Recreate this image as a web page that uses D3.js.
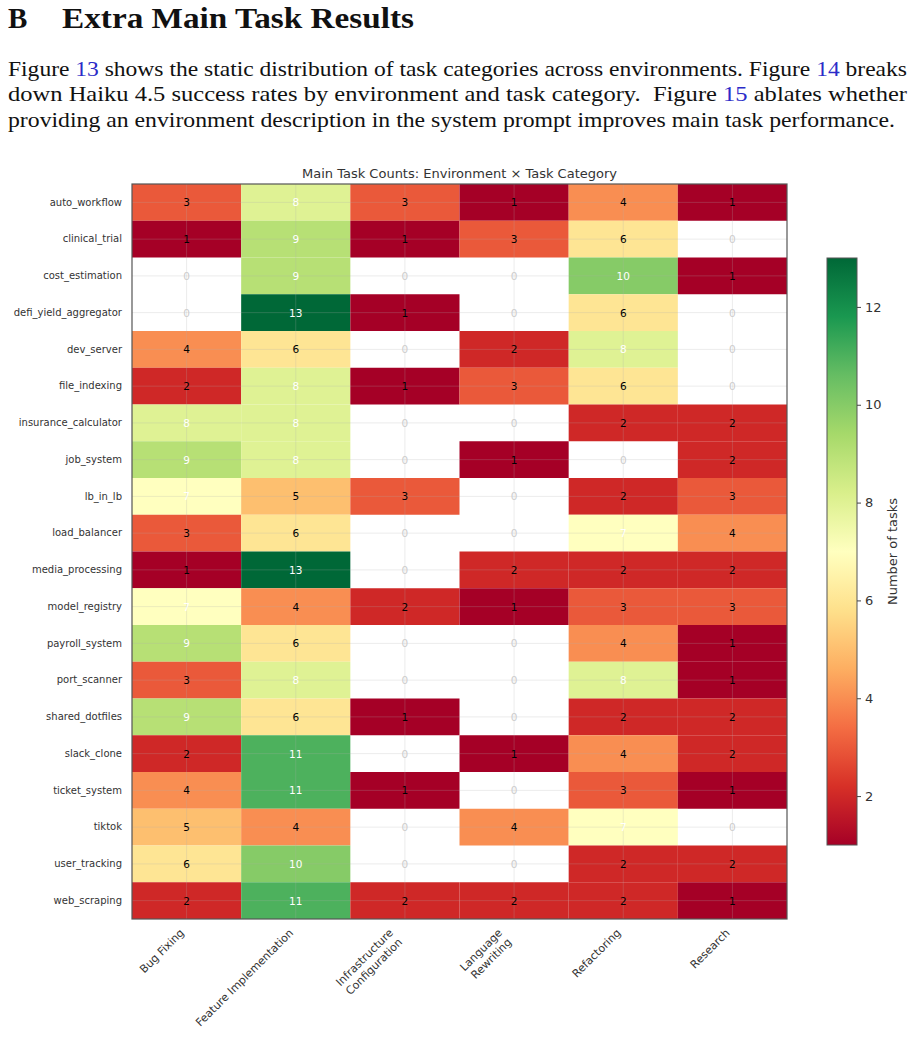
<!DOCTYPE html>
<html>
<head>
<meta charset="utf-8">
<script src="https://cdn.jsdelivr.net/npm/d3@7"></script>
<style>
  body { margin: 0; background: #fff; }
</style>
</head>
<body>
<div id="page"></div>
<script>
// environments (rows) and task categories (columns)
const envs = [
    "auto_workflow", "clinical_trial", "cost_estimation", "defi_yield_aggregator",
    "dev_server", "file_indexing", "insurance_calculator", "job_system", "lb_in_lb",
    "load_balancer", "media_processing", "model_registry", "payroll_system",
    "port_scanner", "shared_dotfiles", "slack_clone", "ticket_system", "tiktok",
    "user_tracking", "web_scraping"
];
const categories = [
    "Bug Fixing", "Feature Implementation", "Infrastructure\nConfiguration",
    "Language\nRewriting", "Refactoring", "Research"
];
// one row per environment, in category order
const counts = [
    [3, 8, 3, 1, 4, 1],
    [1, 9, 1, 3, 6, 0],
    [0, 9, 0, 0, 10, 1],
    [0, 13, 1, 0, 6, 0],
    [4, 6, 0, 2, 8, 0],
    [2, 8, 1, 3, 6, 0],
    [8, 8, 0, 0, 2, 2],
    [9, 8, 0, 1, 0, 2],
    [7, 5, 3, 0, 2, 3],
    [3, 6, 0, 0, 7, 4],
    [1, 13, 0, 2, 2, 2],
    [7, 4, 2, 1, 3, 3],
    [9, 6, 0, 0, 4, 1],
    [3, 8, 0, 0, 8, 1],
    [9, 6, 1, 0, 2, 2],
    [2, 11, 0, 1, 4, 2],
    [4, 11, 1, 0, 3, 1],
    [5, 4, 0, 4, 7, 0],
    [6, 10, 0, 0, 2, 2],
    [2, 11, 2, 2, 2, 1]
];
const cbarTicks = [2, 4, 6, 8, 10, 12];
const vmin = 1, vmax = 13;

// text of the page above the figure
const heading = ["B", "Extra Main Task Results"];
const paragraph = [
    [["Figure ", 0], ["13", 1], [" shows the static distribution of task categories across environments. Figure ", 0], ["14", 1], [" breaks", 0]],
    [["down Haiku 4.5 success rates by environment and task category.  Figure ", 0], ["15", 1], [" ablates whether", 0]],
    [["providing an environment description in the system prompt improves main task performance.", 0]]
];

const W = 914, H = 1037;
const svg = d3.select("#page").append("svg")
    .attr("width", W).attr("height", H);

// ---- heading + paragraph (LaTeX page) ----
const serif = "'Liberation Serif', 'DejaVu Serif', serif";
svg.append("text")
    .attr("x", 8).attr("y", 28)
    .attr("font-family", serif).attr("font-size", 29).attr("font-weight", "bold")
    .attr("fill", "#111")
    .text(heading[0]);
svg.append("text")
    .attr("x", 62).attr("y", 28)
    .attr("font-family", serif).attr("font-size", 29).attr("font-weight", "bold")
    .attr("fill", "#111")
    .attr("textLength", 352).attr("lengthAdjust", "spacingAndGlyphs")
    .text(heading[1]);

const lineEnds = [907, 907, 895];
paragraph.forEach((line, i) => {
    const t = svg.append("text")
        .attr("x", 8).attr("y", 76 + i * 25.3)
        .attr("font-family", serif).attr("font-size", 21)
        .attr("fill", "#111")
        .attr("textLength", lineEnds[i] - 8)
        .attr("lengthAdjust", "spacingAndGlyphs")
        .style("white-space", "pre");
    line.forEach(([s, link]) => {
        t.append("tspan").attr("fill", link ? "#2b2bc8" : "#111").text(s);
    });
});

// ---- heatmap ----
const sans = "'DejaVu Sans', sans-serif";
const plot = { left: 132, top: 184, right: 787, bottom: 919 };

const x = d3.scaleBand()
    .domain(d3.range(categories.length))
    .range([plot.left, plot.right]);
const y = d3.scaleBand()
    .domain(envs)
    .range([plot.top, plot.bottom]);

// RdYlGn as in matplotlib: linear between the 11 brewer colours
const rdylgn = d3.piecewise(d3.interpolateRgb, d3.schemeRdYlGn[11]);
const color = v => rdylgn((v - vmin) / (vmax - vmin));

const cells = [];
counts.forEach((row, i) => row.forEach((v, j) => cells.push({ env: envs[i], cat: j, v })));

svg.append("g").selectAll("rect")
    .data(cells.filter(d => d.v > 0))
    .enter().append("rect")
    .attr("x", d => x(d.cat))
    .attr("y", d => y(d.env))
    .attr("width", x.bandwidth())
    .attr("height", y.bandwidth())
    .attr("fill", d => color(d.v));

// faint grid at the tick positions
const grid = svg.append("g")
    .attr("stroke", "#b0b0b0").attr("stroke-opacity", 0.3).attr("stroke-width", 0.8);
grid.selectAll(".gx")
    .data(d3.range(categories.length))
    .enter().append("line")
    .attr("x1", d => x(d) + x.bandwidth() / 2).attr("x2", d => x(d) + x.bandwidth() / 2)
    .attr("y1", plot.top).attr("y2", plot.bottom);
grid.selectAll(".gy")
    .data(envs)
    .enter().append("line")
    .attr("y1", d => y(d) + y.bandwidth() / 2).attr("y2", d => y(d) + y.bandwidth() / 2)
    .attr("x1", plot.left).attr("x2", plot.right);

// numbers
svg.append("g").selectAll("text")
    .data(cells)
    .enter().append("text")
    .attr("x", d => x(d.cat) + x.bandwidth() / 2)
    .attr("y", d => y(d.env) + y.bandwidth() / 2)
    .attr("text-anchor", "middle")
    .attr("dominant-baseline", "central")
    .attr("font-family", sans).attr("font-size", 10.5)
    .attr("fill", d => d.v === 0 ? "#cccccc" : (d.v > vmax / 2 ? "#ffffff" : "#000000"))
    .text(d => d.v);

// frame
svg.append("rect")
    .attr("x", plot.left).attr("y", plot.top)
    .attr("width", plot.right - plot.left).attr("height", plot.bottom - plot.top)
    .attr("fill", "none").attr("stroke", "#555").attr("stroke-width", 1.2);

// title
svg.append("text")
    .attr("x", (plot.left + plot.right) / 2).attr("y", 178)
    .attr("text-anchor", "middle")
    .attr("font-family", sans).attr("font-size", 13).attr("fill", "#333")
    .text("Main Task Counts: Environment \u00d7 Task Category");

// y axis labels
const yAxis = svg.append("g")
    .attr("transform", `translate(${plot.left},0)`)
    .call(d3.axisLeft(y).tickSize(0).tickPadding(10));
yAxis.select(".domain").remove();
yAxis.selectAll("text")
    .attr("font-family", sans).attr("font-size", 10).attr("fill", "#333");

// x axis labels, rotated 45deg, right-aligned like matplotlib
const fsX = 11, lineH = 1.2 * fsX, y0 = plot.bottom + 7;
categories.forEach((c, j) => {
    const lines = c.split("\n");
    const h = lines.length * lineH;
    const g = svg.append("g")
        .attr("transform", `translate(${x(j) + x.bandwidth() / 2},${y0 + 0.707 * h}) rotate(-45)`);
    lines.forEach((s, k) => {
        g.append("text")
            .attr("x", 0)
            .attr("y", -0.24 * fsX - (lines.length - 1 - k) * lineH)
            .attr("text-anchor", "end")
            .attr("font-family", sans).attr("font-size", fsX).attr("fill", "#333")
            .text(s);
    });
});

// ---- colorbar ----
const cb = { x: 827, w: 30, top: 258, bottom: 845 };
const cy = d3.scaleLinear().domain([vmin, vmax]).range([cb.bottom, cb.top]);

const grad = svg.append("defs").append("linearGradient")
    .attr("id", "cbar").attr("x1", 0).attr("y1", 1).attr("x2", 0).attr("y2", 0);
grad.selectAll("stop")
    .data(d3.range(0, 1.0001, 0.05))
    .enter().append("stop")
    .attr("offset", d => d)
    .attr("stop-color", d => rdylgn(d));

svg.append("rect")
    .attr("x", cb.x).attr("y", cb.top)
    .attr("width", cb.w).attr("height", cb.bottom - cb.top)
    .attr("fill", "url(#cbar)")
    .attr("stroke", "#555").attr("stroke-width", 1);

const cAxis = svg.append("g")
    .attr("transform", `translate(${cb.x + cb.w},0)`)
    .call(d3.axisRight(cy).tickValues(cbarTicks).tickSize(4).tickPadding(4));
cAxis.select(".domain").remove();
cAxis.selectAll("line").attr("stroke", "#444");
cAxis.selectAll("text")
    .attr("font-family", sans).attr("font-size", 13).attr("fill", "#333");

svg.append("text")
    .attr("transform", `translate(892,${(cb.top + cb.bottom) / 2}) rotate(-90)`)
    .attr("text-anchor", "middle")
    .attr("dominant-baseline", "central")
    .attr("font-family", sans).attr("font-size", 13).attr("fill", "#333")
    .text("Number of tasks");
</script>
</body>
</html>
